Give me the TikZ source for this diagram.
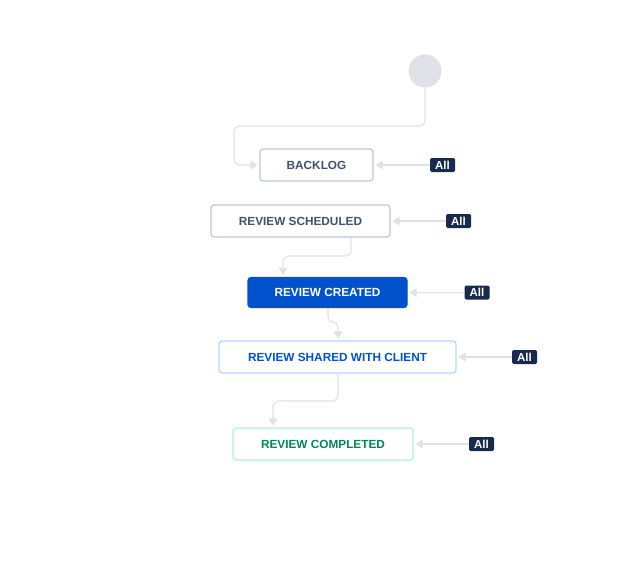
\documentclass[tikz,border=0pt]{standalone}
\usepackage{fontspec}
\setmainfont{Liberation Sans}
\usetikzlibrary{arrows.meta}
\definecolor{lineg}{HTML}{DFE1E6}
\definecolor{boxg}{HTML}{C1C7D0}
\definecolor{txtg}{HTML}{42526E}
\definecolor{navy}{HTML}{172B4D}
\definecolor{jblue}{HTML}{0052CC}
\definecolor{lblue}{HTML}{B3D4FF}
\definecolor{jgreen}{HTML}{00875A}
\definecolor{lgreen}{HTML}{ABF5D1}
\tikzset{
  statebox/.style={draw, rounded corners=3pt, line width=1.2pt, minimum height=32pt, inner sep=0pt, font=\fontsize{11.8}{13}\selectfont\bfseries},
  alltag/.style={fill=navy, text=white, rounded corners=1.5pt, minimum width=25pt, minimum height=14pt, inner sep=0pt, font=\fontsize{11.5}{13}\selectfont\bfseries},
  conn/.style={draw=lineg, line width=1.1pt, -{Triangle[width=9pt,length=7pt]}, shorten >=2pt, rounded corners=6pt},
}
\begin{document}
\begin{tikzpicture}[x=1pt,y=-1pt]
\useasboundingbox (0,0) rectangle (628,565);
\fill[white] (0,0) rectangle (628,565);
\node[circle, fill=lineg, minimum size=33pt, inner sep=0pt] (start) at (425,71) {};
\node[statebox, draw=boxg, text=txtg, minimum width=113pt] (backlog) at (316.5,165) {BACKLOG};
\node[statebox, draw=boxg, text=txtg, minimum width=179pt] (sched) at (300.5,221) {REVIEW SCHEDULED};
\node[statebox, draw=jblue, fill=jblue, text=white, minimum width=159pt, minimum height=30pt] (created) at (327.5,292.5) {REVIEW CREATED};
\node[statebox, draw=lblue, text=jblue, minimum width=237pt] (shared) at (337.5,357) {REVIEW SHARED WITH CLIENT};
\node[statebox, draw=lgreen, text=jgreen, minimum width=180pt] (done) at (323,444) {REVIEW COMPLETED};
\node[alltag] (t1) at (442.5,165) {All};
\node[alltag] (t2) at (458.5,221) {All};
\node[alltag] (t3) at (477,292.5) {All};
\node[alltag] (t4) at (524.5,357) {All};
\node[alltag] (t5) at (481.5,444) {All};
\draw[conn] (t1.west) -- (backlog.east);
\draw[conn] (t2.west) -- (sched.east);
\draw[conn] (t3.west) -- (created.east);
\draw[conn] (t4.west) -- (shared.east);
\draw[conn] (t5.west) -- (done.east);
\coordinate (c1) at (234,126);
\draw[conn] (start.south) |- (c1) |- (backlog.west);
\coordinate (c2) at (351,256);
\coordinate (c3) at (283,256);
\draw[conn] (sched.south -| c2) -- (c2) -- (c3) -- (c3 |- created.north);
\coordinate (c4) at (328,322);
\coordinate (c5) at (338,322);
\draw[conn, rounded corners=5pt] (created.south -| c4) -- (c4) -- (c5) -- (c5 |- shared.north);
\coordinate (c6) at (338,401);
\coordinate (c7) at (273,401);
\draw[conn] (shared.south -| c6) -- (c6) -- (c7) -- (c7 |- done.north);
\end{tikzpicture}
\end{document}
